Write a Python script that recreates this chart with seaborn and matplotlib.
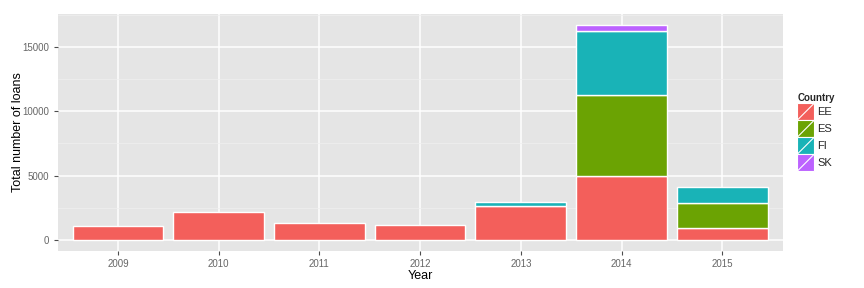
import matplotlib
matplotlib.use("Agg")
import matplotlib.pyplot as plt
import seaborn as sns
import pandas as pd
import numpy as np
from matplotlib.patches import Rectangle
from matplotlib.lines import Line2D
from matplotlib.legend_handler import HandlerBase

years = ["2009", "2010", "2011", "2012", "2013", "2014", "2015"]
countries = ["EE", "ES", "FI", "SK"]
loans_EE = [1050, 2150, 1300, 1130, 2600, 5000, 950]
loans_ES = [0, 0, 0, 0, 0, 6240, 1930]
loans_FI = [0, 0, 0, 0, 320, 5020, 1270]
loans_SK = [0, 0, 0, 0, 0, 470, 0]
colors = ["#F35F5B", "#6BA303", "#19B3B7", "#BC62FF"]

series = [loans_EE, loans_ES, loans_FI, loans_SK]

sns.set_theme(style="darkgrid")
plt.rcParams['font.family'] = ['Liberation Sans', 'DejaVu Sans']

fig = plt.figure(figsize=(8.64, 2.88), dpi=100)
ax = fig.add_axes([57.5/864, 1-250.7/288, (782.7-57.5)/864, (250.7-14)/288])
ax.set_facecolor("#E5E5E5")

bottom = np.zeros(len(years))
for c, vals, col in zip(countries, series, colors):
    vals = np.array(vals, dtype=float)
    mask = vals > 0
    df = pd.DataFrame({"Year": np.array(years)[mask], "n": vals[mask]})
    sns.barplot(data=df, x="Year", y="n", order=years, bottom=bottom[mask],
                color=col, width=0.9, edgecolor="white", linewidth=1.0,
                saturation=1, ax=ax, errorbar=None)
    bottom = bottom + vals

ax.set_xlim(-0.6, 6.6)
ymax = bottom.max()
ax.set_ylim(-0.05*ymax, 1.05*ymax)
ax.set_yticks([0, 5000, 10000, 15000])
ax.set_yticks([2500, 7500, 12500, 17500], minor=True)
ax.grid(True, which="major", color="white", linewidth=1.1)
ax.grid(True, which="minor", axis="y", color="#F0F0F0", linewidth=0.5)
ax.set_axisbelow(True)
for s in ax.spines.values():
    s.set_visible(False)
ax.tick_params(axis="both", which="major", length=3, width=0.8, color="#4D4D4D",
               labelsize=7, labelcolor="#666666", pad=3, direction="out",
               bottom=True, left=True)
ax.tick_params(axis="both", which="minor", length=0)
ax.set_xlabel("Year", fontsize=9, labelpad=1, color="black")
ax.set_ylabel("Total number of loans", fontsize=9, color="black")
ax.yaxis.set_label_coords((24 - 57.5) / 725.2, 0.5)


class DiagHandler(HandlerBase):
    def create_artists(self, legend, orig_handle, xdescent, ydescent, width, height, fontsize, trans):
        r = Rectangle((-xdescent, -ydescent), width, height, facecolor=orig_handle.get_facecolor(),
                      edgecolor="white", linewidth=0.8, transform=trans)
        l = Line2D([-xdescent, -xdescent + width], [-ydescent, -ydescent + height],
                   color="white", linewidth=0.8, transform=trans)
        return [r, l]


handles = [Rectangle((0, 0), 1, 1, facecolor=col) for col in colors]
leg = fig.legend(handles, countries, title="Country", loc="upper left",
                 bbox_to_anchor=(795/864, 1-91/288), frameon=False,
                 handler_map={Rectangle: DiagHandler()}, fontsize=8,
                 title_fontproperties={"weight": "bold", "size": 7},
                 handlelength=1.53, handleheight=1.977, handletextpad=0.27,
                 labelspacing=0.0, borderpad=0.2, borderaxespad=0)
leg._legend_box.align = "left"

fig.savefig("out.png", dpi=100)
